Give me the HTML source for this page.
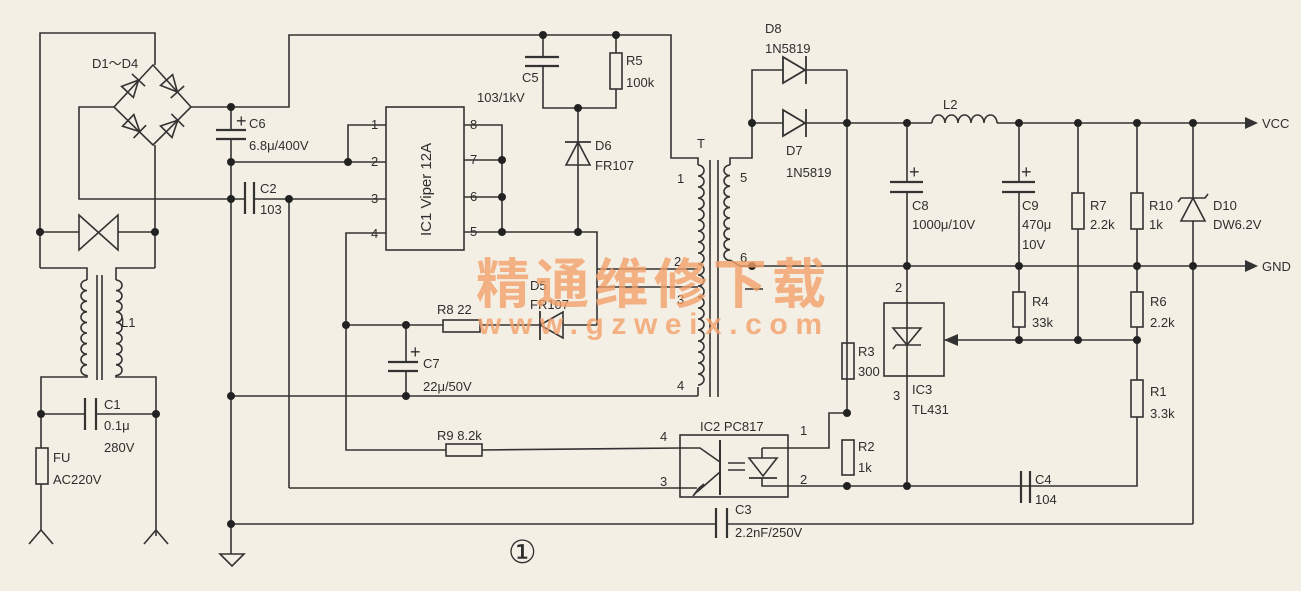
<!DOCTYPE html>
<html><head><meta charset="utf-8"><style>
html,body{margin:0;padding:0;background:#f4efe4;}
svg{display:block}
text{font-family:"Liberation Sans","Noto Sans CJK SC",sans-serif;fill:#2e2e2e;font-size:13px}
</style></head><body>
<svg width="1301" height="591" viewBox="0 0 1301 591" xmlns="http://www.w3.org/2000/svg">
<rect width="1301" height="591" fill="#f4efe4"/>
<defs>
<g id="dio"><polygon points="-9,-9 -9,9 9,0" fill="none" stroke="#333" stroke-width="1.8"/><line x1="9" y1="-10" x2="9" y2="10" stroke="#333" stroke-width="1.8"/></g>
</defs>
<g fill="none" stroke="#333" stroke-width="1.6">
<polyline points="40,268 40,33 155,33 155,65"/>
<polygon points="114,107 153,65 191,107 153,145"/>
<polyline points="114,107 79,107 79,199 245,199"/>
<polyline points="155,145 155,268"/>
<polyline points="191,107 289,107 289,35 671,35 671,158 698,158 698,165"/>
<line x1="40" y1="232" x2="79" y2="232"/><line x1="118" y1="232" x2="155" y2="232"/>
<polygon points="79,215 118,250 118,215 79,250"/>
<polyline points="40,268 87,268 87,280"/><polyline points="155,268 116,268 116,280"/>
<path d="M87,280 a6 5.3 0 0 0 0 10.6 a6 5.3 0 0 0 0 10.6 a6 5.3 0 0 0 0 10.6 a6 5.3 0 0 0 0 10.6 a6 5.3 0 0 0 0 10.6 a6 5.3 0 0 0 0 10.6 a6 5.3 0 0 0 0 10.6 a6 5.3 0 0 0 0 10.6 a6 5.3 0 0 0 0 10.6"/>
<path d="M116,280 a6 5.3 0 0 1 0 10.6 a6 5.3 0 0 1 0 10.6 a6 5.3 0 0 1 0 10.6 a6 5.3 0 0 1 0 10.6 a6 5.3 0 0 1 0 10.6 a6 5.3 0 0 1 0 10.6 a6 5.3 0 0 1 0 10.6 a6 5.3 0 0 1 0 10.6 a6 5.3 0 0 1 0 10.6"/>
<line x1="97" y1="275" x2="97" y2="380"/><line x1="102" y1="275" x2="102" y2="380"/>
<polyline points="87,375 87,377 41,377 41,448"/><polyline points="116,375 116,377 156,377 156,536"/>
<line x1="41" y1="414" x2="85" y2="414"/><line x1="96" y1="414" x2="156" y2="414"/>
<line x1="85" y1="398" x2="85" y2="430" stroke-width="2.2"/><line x1="96" y1="398" x2="96" y2="430" stroke-width="2.2"/>
<rect x="36" y="448" width="12" height="36"/>
<line x1="41" y1="484" x2="41" y2="530"/>
<polyline points="29,544 41,530 53,544"/><polyline points="144,544 156,530 168,544"/>
<line x1="231" y1="107" x2="231" y2="130"/>
<line x1="216" y1="130" x2="246" y2="130" stroke-width="2.2"/><line x1="216" y1="139" x2="246" y2="139" stroke-width="2.2"/>
<line x1="231" y1="139" x2="231" y2="554"/>
<polygon points="220,554 244,554 232,566"/>
<line x1="245" y1="182" x2="245" y2="214" stroke-width="2.2"/><line x1="254" y1="182" x2="254" y2="214" stroke-width="2.2"/>
<polyline points="254,199 386,199"/>
<line x1="289" y1="199" x2="289" y2="488"/>
<line x1="231" y1="162" x2="386" y2="162"/>
<polyline points="386,125 348,125 348,162"/>
<rect x="386" y="107" width="78" height="143"/>
<polyline points="464,125 502,125 502,232"/>
<line x1="464" y1="160" x2="502" y2="160"/><line x1="464" y1="197" x2="502" y2="197"/>
<polyline points="464,232 597,232 597,325"/>
<polyline points="386,233 346,233 346,450 446,450"/>
<line x1="543" y1="35" x2="543" y2="57"/>
<line x1="525" y1="57" x2="559" y2="57" stroke-width="2.2"/><line x1="525" y1="66" x2="559" y2="66" stroke-width="2.2"/>
<polyline points="543,66 543,108 616,108 616,89"/>
<rect x="610" y="53" width="12" height="36"/><line x1="616" y1="35" x2="616" y2="53"/>
<line x1="578" y1="108" x2="578" y2="232"/>
<polygon points="566,165 590,165 578,142"/><line x1="565" y1="142" x2="591" y2="142" stroke-width="1.8"/>
<path d="M698,165 a6 5.5 0 0 1 0 11 a6 5.5 0 0 1 0 11 a6 5.5 0 0 1 0 11 a6 5.5 0 0 1 0 11 a6 5.5 0 0 1 0 11 a6 5.5 0 0 1 0 11 a6 5.5 0 0 1 0 11 a6 5.5 0 0 1 0 11 a6 5.5 0 0 1 0 11 a6 5.5 0 0 1 0 11 a6 5.5 0 0 1 0 11 a6 5.5 0 0 1 0 11 a6 5.5 0 0 1 0 11 a6 5.5 0 0 1 0 11 a6 5.5 0 0 1 0 11 a6 5.5 0 0 1 0 11 a6 5.5 0 0 1 0 11 a6 5.5 0 0 1 0 11 a6 5.5 0 0 1 0 11 a6 5.5 0 0 1 0 11"/>
<line x1="710" y1="160" x2="710" y2="397"/><line x1="718" y1="160" x2="718" y2="397"/>
<path d="M730,165 a6 5.3 0 0 0 0 10.6 a6 5.3 0 0 0 0 10.6 a6 5.3 0 0 0 0 10.6 a6 5.3 0 0 0 0 10.6 a6 5.3 0 0 0 0 10.6 a6 5.3 0 0 0 0 10.6 a6 5.3 0 0 0 0 10.6 a6 5.3 0 0 0 0 10.6 a6 5.3 0 0 0 0 10.6"/>
<polyline points="730,165 730,158 752,158 752,70 783,70"/>
<line x1="801" y1="70" x2="847" y2="70"/><line x1="847" y1="70" x2="847" y2="413"/>
<polyline points="730,260 740,266 752,266"/>
<line x1="597" y1="269" x2="698" y2="269"/><line x1="597" y1="287" x2="698" y2="287"/>
<line x1="745" y1="289" x2="763" y2="289"/>
<line x1="231" y1="396" x2="698" y2="396"/><line x1="698" y1="387" x2="698" y2="396"/>
<line x1="346" y1="325" x2="443" y2="325"/><rect x="443" y="320" width="37" height="12"/>
<line x1="480" y1="325" x2="597" y2="325"/>
<line x1="406" y1="325" x2="406" y2="362"/>
<line x1="388" y1="362" x2="418" y2="362" stroke-width="2.2"/><line x1="388" y1="371" x2="418" y2="371" stroke-width="2.2"/>
<line x1="406" y1="371" x2="406" y2="396"/>
<polygon points="563,312 563,338 540,325" fill="#f4efe4"/><line x1="540" y1="311" x2="540" y2="340" stroke-width="1.8"/>
<rect x="446" y="444" width="36" height="12"/><line x1="482" y1="450" x2="680" y2="448"/>
<line x1="289" y1="488" x2="680" y2="488"/>
<rect x="680" y="435" width="108" height="62"/>
<polyline points="680,448 700,448 720,462"/>
<line x1="720" y1="440" x2="720" y2="495" stroke-width="2"/>
<polyline points="720,472 697,492"/><polyline points="680,488 697,488"/>
<polygon points="693,496 704,484 699,488" fill="#333"/>
<polyline points="762,448 762,458"/><polygon points="749,458 777,458 763,476"/><line x1="749" y1="478" x2="777" y2="478" stroke-width="1.8"/>
<polyline points="762,478 762,486 1030,486"/>
<line x1="728" y1="463" x2="745" y2="463"/><line x1="728" y1="470" x2="745" y2="470"/>
<polyline points="762,448 829,448 829,413 847,413"/>
<line x1="752" y1="123" x2="783" y2="123"/><line x1="801" y1="123" x2="932" y2="123"/>
<path d="M932,123 a6.5 8 0 0 1 13 0 a6.5 8 0 0 1 13 0 a6.5 8 0 0 1 13 0 a6.5 8 0 0 1 13 0 a6.5 8 0 0 1 13 0"/>
<line x1="997" y1="123" x2="1245" y2="123"/>
<line x1="752" y1="266" x2="1245" y2="266"/>
<line x1="907" y1="123" x2="907" y2="182"/>
<line x1="890" y1="182" x2="923" y2="182" stroke-width="2.2"/><line x1="890" y1="192" x2="923" y2="192" stroke-width="2.2"/>
<line x1="907" y1="192" x2="907" y2="486"/>
<line x1="1019" y1="123" x2="1019" y2="182"/>
<line x1="1002" y1="182" x2="1035" y2="182" stroke-width="2.2"/><line x1="1002" y1="192" x2="1035" y2="192" stroke-width="2.2"/>
<line x1="1019" y1="192" x2="1019" y2="292"/><rect x="1013" y="292" width="12" height="35"/><line x1="1019" y1="327" x2="1019" y2="340"/>
<line x1="1078" y1="123" x2="1078" y2="193"/><rect x="1072" y="193" width="12" height="36"/><line x1="1078" y1="229" x2="1078" y2="340"/>
<line x1="1137" y1="123" x2="1137" y2="193"/><rect x="1131" y="193" width="12" height="36"/><line x1="1137" y1="229" x2="1137" y2="292"/>
<rect x="1131" y="292" width="12" height="35"/><line x1="1137" y1="327" x2="1137" y2="380"/>
<rect x="1131" y="380" width="12" height="37"/><polyline points="1137,417 1137,486 1030,486"/>
<line x1="1021" y1="471" x2="1021" y2="503" stroke-width="2.2"/><line x1="1030" y1="471" x2="1030" y2="503" stroke-width="2.2"/>
<line x1="1193" y1="123" x2="1193" y2="524"/>
<polygon points="1181,221 1205,221 1193,198" fill="#f4efe4"/><polyline points="1178,202 1181,198 1205,198 1208,194"/>
<polyline points="231,524 716,524"/><polyline points="727,524 1193,524"/>
<line x1="716" y1="508" x2="716" y2="538" stroke-width="2.2"/><line x1="727" y1="508" x2="727" y2="538" stroke-width="2.2"/>
<rect x="884" y="303" width="60" height="73"/>
<polygon points="893,328 921,328 907,345"/><polyline points="893,349 896,345 921,345"/>
<line x1="944" y1="340" x2="1137" y2="340"/>
<rect x="842" y="343" width="12" height="36"/><rect x="842" y="440" width="12" height="35"/>
</g>
<polygon points="944,340 958,334 958,346" fill="#333"/>
<polygon points="1245,117 1258,123 1245,129" fill="#333"/>
<polygon points="1245,260 1258,266 1245,272" fill="#333"/>
<use href="#dio" transform="translate(133,86) rotate(-47) scale(0.9)"/>
<use href="#dio" transform="translate(172,86) rotate(48) scale(0.9)"/>
<use href="#dio" transform="translate(172,126) rotate(-45) scale(0.9)"/>
<use href="#dio" transform="translate(134,126) rotate(44) scale(0.9)"/>
<g fill="#f4efe4"><polygon points="783,57 783,83 805,70"/><polygon points="783,110 783,136 805,123"/></g>
<g fill="none" stroke="#333" stroke-width="1.8"><polygon points="783,57 783,83 805,70"/><line x1="806" y1="56" x2="806" y2="84"/><polygon points="783,110 783,136 805,123"/><line x1="806" y1="109" x2="806" y2="137"/></g>
<g fill="#222">
<circle cx="40" cy="232" r="4"/><circle cx="155" cy="232" r="4"/><circle cx="41" cy="414" r="4"/><circle cx="156" cy="414" r="4"/>
<circle cx="231" cy="107" r="4"/><circle cx="231" cy="162" r="4"/><circle cx="231" cy="199" r="4"/><circle cx="289" cy="199" r="4"/>
<circle cx="348" cy="162" r="4"/><circle cx="502" cy="160" r="4"/><circle cx="502" cy="197" r="4"/><circle cx="502" cy="232" r="4"/><circle cx="578" cy="232" r="4"/>
<circle cx="543" cy="35" r="4"/><circle cx="616" cy="35" r="4"/><circle cx="578" cy="108" r="4"/>
<circle cx="346" cy="325" r="4"/><circle cx="406" cy="325" r="4"/><circle cx="406" cy="396" r="4"/><circle cx="231" cy="396" r="4"/><circle cx="231" cy="524" r="4"/>
<circle cx="752" cy="123" r="4"/><circle cx="847" cy="123" r="4"/><circle cx="907" cy="123" r="4"/><circle cx="1019" cy="123" r="4"/><circle cx="1078" cy="123" r="4"/><circle cx="1137" cy="123" r="4"/><circle cx="1193" cy="123" r="4"/>
<circle cx="752" cy="266" r="4"/><circle cx="907" cy="266" r="4"/><circle cx="1019" cy="266" r="4"/><circle cx="1137" cy="266" r="4"/><circle cx="1193" cy="266" r="4"/>
<circle cx="1019" cy="340" r="4"/><circle cx="1078" cy="340" r="4"/><circle cx="1137" cy="340" r="4"/>
<circle cx="847" cy="413" r="4"/><circle cx="847" cy="486" r="4"/><circle cx="907" cy="486" r="4"/>
</g>
<text x="92" y="68">D1～D4</text>
<text x="236" y="127" style="font-size:18px">+</text><text x="249" y="128">C6</text><text x="249" y="150">6.8μ/400V</text>
<text x="260" y="193">C2</text><text x="260" y="214">103</text>
<text x="371" y="129">1</text><text x="371" y="166">2</text><text x="371" y="203">3</text><text x="371" y="238">4</text>
<text x="470" y="129">8</text><text x="470" y="164">7</text><text x="470" y="201">6</text><text x="470" y="236">5</text>
<text transform="translate(431,236) rotate(-90)" style="font-size:15px">IC1 Viper 12A</text>
<text x="522" y="82">C5</text><text x="477" y="102">103/1kV</text>
<text x="626" y="65">R5</text><text x="626" y="87">100k</text>
<text x="595" y="150">D6</text><text x="595" y="170">FR107</text>
<text x="697" y="148">T</text>
<text x="677" y="183">1</text><text x="674" y="266">2</text><text x="677" y="304">3</text><text x="677" y="390">4</text>
<text x="740" y="182">5</text><text x="740" y="262">6</text>
<text x="437" y="314">R8 22</text>
<text x="530" y="290">D5</text><text x="530" y="309">FR107</text>
<text x="410" y="358" style="font-size:18px">+</text><text x="423" y="368">C7</text><text x="423" y="391">22μ/50V</text>
<text x="437" y="440">R9 8.2k</text>
<text x="121" y="327">L1</text>
<text x="104" y="409">C1</text><text x="104" y="430">0.1μ</text><text x="104" y="452">280V</text>
<text x="53" y="462">FU</text><text x="53" y="484">AC220V</text>
<text x="765" y="33">D8</text><text x="765" y="53">1N5819</text>
<text x="786" y="155">D7</text><text x="786" y="177">1N5819</text>
<text x="943" y="109">L2</text>
<text x="1262" y="128">VCC</text><text x="1262" y="271">GND</text>
<text x="909" y="178" style="font-size:18px">+</text><text x="912" y="210">C8</text><text x="912" y="229">1000μ/10V</text>
<text x="1021" y="178" style="font-size:18px">+</text><text x="1022" y="210">C9</text><text x="1022" y="229">470μ</text><text x="1022" y="249">10V</text>
<text x="1090" y="210">R7</text><text x="1090" y="229">2.2k</text>
<text x="1149" y="210">R10</text><text x="1149" y="229">1k</text>
<text x="1213" y="210">D10</text><text x="1213" y="229">DW6.2V</text>
<text x="1032" y="306">R4</text><text x="1032" y="327">33k</text>
<text x="1150" y="306">R6</text><text x="1150" y="327">2.2k</text>
<text x="1150" y="396">R1</text><text x="1150" y="418">3.3k</text>
<text x="895" y="292">2</text><text x="893" y="400">3</text><text x="912" y="394">IC3</text><text x="912" y="414">TL431</text>
<text x="858" y="356">R3</text><text x="858" y="376">300</text>
<text x="858" y="451">R2</text><text x="858" y="472">1k</text>
<text x="700" y="431">IC2 PC817</text>
<text x="660" y="441">4</text><text x="660" y="486">3</text><text x="800" y="435">1</text><text x="800" y="484">2</text>
<text x="1035" y="484">C4</text><text x="1035" y="504">104</text>
<text x="735" y="514">C3</text><text x="735" y="537">2.2nF/250V</text>
<text x="508" y="563" style="font-family:'Liberation Serif','DejaVu Serif',serif;font-size:32px">①</text>
<text x="476" y="303" textLength="350" lengthAdjust="spacing" style="font-family:'Noto Sans CJK SC',sans-serif;font-size:54px;font-weight:bold;fill:#f2a06a;fill-opacity:0.8">精通维修下载</text>
<text x="478" y="334" textLength="344" lengthAdjust="spacing" style="font-size:30px;font-weight:bold;fill:#f2a06a;fill-opacity:0.8">www.gzweix.com</text>
</svg>
</body></html>
